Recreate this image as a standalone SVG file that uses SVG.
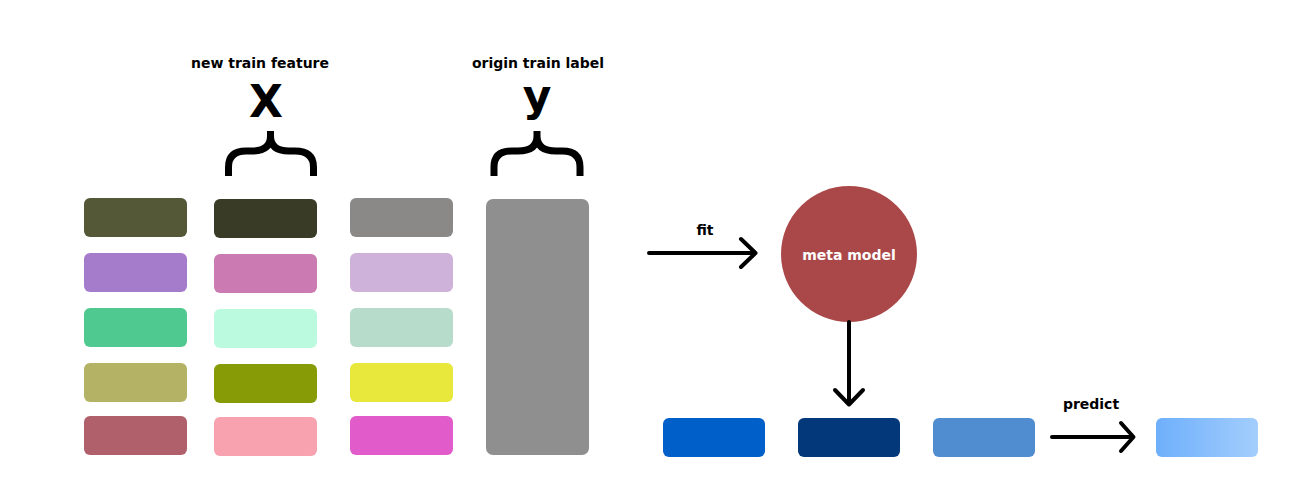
<svg xmlns="http://www.w3.org/2000/svg" width="1299" height="483" viewBox="0 0 1299 483">
<defs>
<style>
.lbl{font-family:"DejaVu Sans",Verdana,sans-serif;font-weight:bold;font-size:14px;fill:#000;text-anchor:middle}
.big{font-family:"DejaVu Sans",Verdana,sans-serif;font-weight:bold;font-size:44px;fill:#000;text-anchor:middle}
.brace{fill:none;stroke:#000;stroke-width:7}
.conn{fill:none;stroke:#000;stroke-width:4;stroke-linecap:round;stroke-linejoin:round}
</style>
<linearGradient id="gLight" x1="0" y1="0" x2="1" y2="0">
<stop offset="0" stop-color="#6eaffb"/>
<stop offset="1" stop-color="#a3cefd"/>
</linearGradient>
</defs>
<rect width="1299" height="483" fill="#fff"/>

<g id="label-x">
<text class="lbl" x="260" y="68">new train feature</text>
<text class="big" x="266" y="117">X</text>
<path class="brace" d="M228.5,176 V167 Q228.5,151 246,151 H252 Q270.5,151 270.5,136 V131 M270.5,136 Q270.5,151 289,151 H295 Q313.5,151 313.5,167 V176"/>
</g>
<g id="label-y">
<text class="lbl" x="538" y="68">origin train label</text>
<text class="big" x="537" y="111">y</text>
<path class="brace" d="M494,176 V167 Q494,151 511.5,151 H518 Q537,151 537,136 V131 M537,136 Q537,151 556,151 H562.5 Q580,151 580,167 V176"/>
</g>

<g id="col1">
<rect x="84" y="198" width="103" height="39" rx="6" fill="#545837"/>
<rect x="84" y="253" width="103" height="39" rx="6" fill="#a57ccb"/>
<rect x="84" y="308" width="103" height="39" rx="6" fill="#4fc98f"/>
<rect x="84" y="363" width="103" height="39" rx="6" fill="#b4b365"/>
<rect x="84" y="416" width="103" height="39" rx="6" fill="#b0606b"/>
</g>
<g id="col2">
<rect x="214" y="199" width="103" height="39" rx="6" fill="#3a3b27"/>
<rect x="214" y="254" width="103" height="39" rx="6" fill="#cb7ab2"/>
<rect x="214" y="309" width="103" height="39" rx="6" fill="#bcfadf"/>
<rect x="214" y="364" width="103" height="39" rx="6" fill="#869b06"/>
<rect x="214" y="417" width="103" height="39" rx="6" fill="#f8a2b0"/>
</g>
<g id="col3">
<rect x="350" y="198" width="103" height="39" rx="6" fill="#8a8987"/>
<rect x="350" y="253" width="103" height="39" rx="6" fill="#cfb2d9"/>
<rect x="350" y="308" width="103" height="39" rx="6" fill="#b7dccc"/>
<rect x="350" y="363" width="103" height="39" rx="6" fill="#e8e83c"/>
<rect x="350" y="416" width="103" height="39" rx="6" fill="#e25bcb"/>
</g>
<g id="label-col">
<rect x="486" y="199" width="103" height="256" rx="7" fill="#8f8f8f"/>
</g>

<g id="meta-model">
<circle cx="849" cy="254" r="68" fill="#aa4849"/>
<text class="lbl" x="849" y="260" style="fill:#fff">meta model</text>
</g>

<g id="outputs">
<rect x="663" y="418" width="102" height="39" rx="6" fill="#005fc9"/>
<rect x="798" y="418" width="102" height="39" rx="6" fill="#03397a"/>
<rect x="933" y="418" width="102" height="39" rx="6" fill="#508cd0"/>
<rect x="1156" y="418" width="102" height="39" rx="6" fill="url(#gLight)"/>
</g>

<g id="connectors">
<path class="conn" d="M649,253 H755 M741,239 L755.5,253 L741,267"/>
<text class="lbl" x="705" y="235">fit</text>
<path class="conn" d="M849,322 V404 M835,390 L849,404.5 L863,390"/>
<path class="conn" d="M1052,437 H1133 M1121,423 L1133.5,437 L1121,451"/>
<text class="lbl" x="1091" y="409">predict</text>
</g>
</svg>
